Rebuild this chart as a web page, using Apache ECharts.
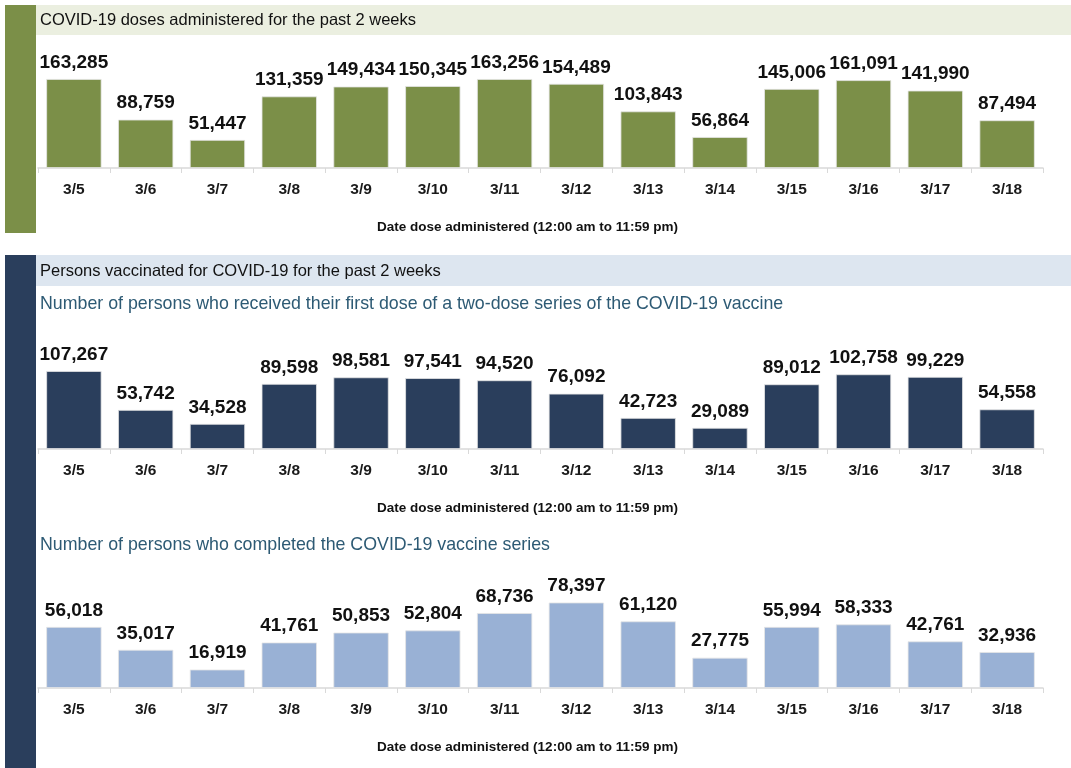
<!DOCTYPE html>
<html>
<head>
<meta charset="utf-8">
<script src="https://cdn.jsdelivr.net/npm/echarts@6/dist/echarts.min.js"></script>
<style>
html,body{margin:0;padding:0;background:#fff;}
#chart{width:1071px;height:768px;}
</style>
</head>
<body>
<div id="chart"></div>
<script>
const categories = ['3/5','3/6','3/7','3/8','3/9','3/10','3/11','3/12','3/13','3/14','3/15','3/16','3/17','3/18'];
const dosesAdministered = [163285, 88759, 51447, 131359, 149434, 150345, 163256, 154489, 103843, 56864, 145006, 161091, 141990, 87494];
const firstDose = [107267, 53742, 34528, 89598, 98581, 97541, 94520, 76092, 42723, 29089, 89012, 102758, 99229, 54558];
const completedSeries = [56018, 35017, 16919, 41761, 50853, 52804, 68736, 78397, 61120, 27775, 55994, 58333, 42761, 32936];

const title1 = 'COVID-19 doses administered for the past 2 weeks';
const title2 = 'Persons vaccinated for COVID-19 for the past 2 weeks';
const sub1 = 'Number of persons who received their first dose of a two-dose series of the COVID-19 vaccine';
const sub2 = 'Number of persons who completed the COVID-19 vaccine series';
const axisName = 'Date dose administered (12:00 am to 11:59 pm)';

const FONT = '"Liberation Sans", Arial, sans-serif';
const chart = echarts.init(document.getElementById('chart'));

function xAx(i){
  return {
    type:'category', gridIndex:i, data:categories,
    axisLine:{lineStyle:{color:'#d9d9d9', width:1.5}},
    axisTick:{show:true, length:5, lineStyle:{color:'#d9d9d9'}},
    axisLabel:{color:'#1a1a1a', fontFamily:FONT, fontSize:15.5, fontWeight:'bold', margin:14},
    name:axisName, nameLocation:'middle', nameGap:52,
    nameTextStyle:{color:'#111', fontFamily:FONT, fontSize:13.5, fontWeight:'bold', padding:[0,26,0,0]}
  };
}
function yAx(i, max){
  return {type:'value', gridIndex:i, min:0, max:max, show:false, splitLine:{show:false}};
}
function ser(i, data, color){
  return {
    type:'bar', xAxisIndex:i, yAxisIndex:i, data:data, barWidth:'77%',
    itemStyle:{color:color, borderColor:'#e6e6e6', borderWidth:0.8},
    label:{show:true, position:'top', distance:7, color:'#111', fontFamily:FONT, fontSize:19, fontWeight:'bold',
      formatter:p=>p.value.toLocaleString('en-US')},
    animation:false
  };
}

chart.setOption({
  animation:false,
  graphic:[
    {type:'rect', shape:{x:5,y:5,width:31,height:228}, style:{fill:'#7b8f48'}},
    {type:'rect', shape:{x:36,y:5,width:1035,height:30}, style:{fill:'#ebefe0'}},
    {type:'rect', shape:{x:5,y:255,width:31,height:513}, style:{fill:'#2a3e5c'}},
    {type:'rect', shape:{x:36,y:255,width:1035,height:31}, style:{fill:'#dde6f0'}},
    {type:'text', left:40, top:12, style:{text:title1, fill:'#111', font:'16.5px '+FONT}},
    {type:'text', left:40, top:263, style:{text:title2, fill:'#111', font:'16.5px '+FONT}},
    {type:'text', left:40, top:295, style:{text:sub1, fill:'#2d5a74', font:'17.8px '+FONT}},
    {type:'text', left:40, top:536, style:{text:sub2, fill:'#2d5a74', font:'17.8px '+FONT}}
  ],
  grid:[
    {left:38, right:28, top:59, height:109},
    {left:38, right:28, top:340, height:109},
    {left:38, right:28, top:579, height:109}
  ],
  xAxis:[xAx(0), xAx(1), xAx(2)],
  yAxis:[yAx(0,200000), yAx(1,150000), yAx(2,100000)],
  series:[
    ser(0, dosesAdministered, '#7b8f48'),
    ser(1, firstDose, '#2a3e5c'),
    ser(2, completedSeries, '#99b1d5')
  ]
});
</script>
</body>
</html>
